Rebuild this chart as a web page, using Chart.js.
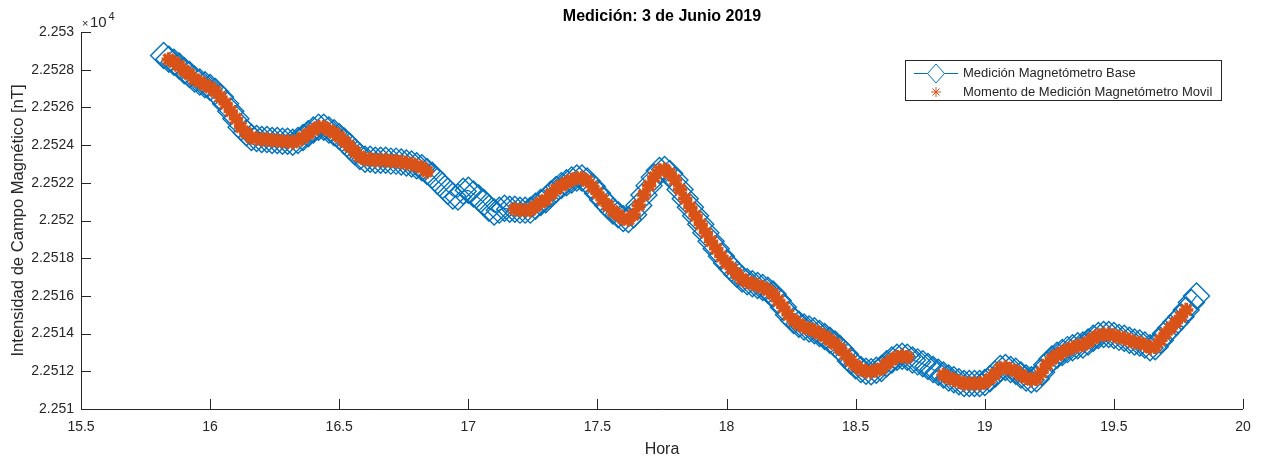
<!DOCTYPE html>
<html><head><meta charset="utf-8">
<script src="https://cdn.jsdelivr.net/npm/chart.js@4"></script>
<style>html,body{margin:0;padding:0;background:#fff;overflow:hidden}#wrap{width:1262px;height:457px}</style>
</head><body><div id="wrap"><canvas id="c" width="1262" height="457"></canvas></div>
<script>
// ---- data (hours, nT) ----
const horas = [15.82,15.84,15.86,15.88,15.90,15.92,15.94,15.96,15.98,16.00,16.02,16.04,16.06,16.08,16.10,16.12,16.14,16.16,16.18,16.20,16.22,16.24,16.26,16.28,16.30,16.32,16.34,16.36,16.38,16.40,16.42,16.44,16.46,16.48,16.50,16.52,16.54,16.56,16.58,16.60,16.62,16.64,16.66,16.68,16.70,16.72,16.74,16.76,16.78,16.80,16.82,16.84,16.86,16.88,16.90,16.92,16.94,16.96,16.98,17.00,17.02,17.04,17.06,17.08,17.10,17.12,17.14,17.16,17.18,17.20,17.22,17.24,17.26,17.28,17.30,17.32,17.34,17.36,17.38,17.40,17.42,17.44,17.46,17.48,17.50,17.52,17.54,17.56,17.58,17.60,17.62,17.64,17.66,17.68,17.70,17.72,17.74,17.76,17.78,17.80,17.82,17.84,17.86,17.88,17.90,17.92,17.94,17.96,17.98,18.00,18.02,18.04,18.06,18.08,18.10,18.12,18.14,18.16,18.18,18.20,18.22,18.24,18.26,18.28,18.30,18.32,18.34,18.36,18.38,18.40,18.42,18.44,18.46,18.48,18.50,18.52,18.54,18.56,18.58,18.60,18.62,18.64,18.66,18.68,18.70,18.72,18.74,18.76,18.78,18.80,18.82,18.84,18.86,18.88,18.90,18.92,18.94,18.96,18.98,19.00,19.02,19.04,19.06,19.08,19.10,19.12,19.14,19.16,19.18,19.20,19.22,19.24,19.26,19.28,19.30,19.32,19.34,19.36,19.38,19.40,19.42,19.44,19.46,19.48,19.50,19.52,19.54,19.56,19.58,19.60,19.62,19.64,19.66,19.68,19.70,19.72,19.74,19.76,19.78,19.80,19.82];
const campoBase = [22528.75,22528.55,22528.40,22528.20,22527.95,22527.75,22527.50,22527.35,22527.20,22527.05,22526.85,22526.55,22526.20,22525.80,22525.40,22524.95,22524.65,22524.40,22524.35,22524.30,22524.30,22524.25,22524.25,22524.20,22524.20,22524.15,22524.25,22524.40,22524.60,22524.80,22524.95,22524.95,22524.80,22524.65,22524.45,22524.20,22523.95,22523.65,22523.40,22523.25,22523.25,22523.20,22523.20,22523.20,22523.15,22523.15,22523.10,22523.05,22523.00,22522.90,22522.80,22522.60,22522.40,22522.10,22521.85,22521.55,22521.30,22521.25,22521.55,22521.60,22521.40,22521.20,22520.95,22520.65,22520.45,22520.55,22520.65,22520.60,22520.60,22520.55,22520.55,22520.55,22520.75,22520.95,22521.10,22521.40,22521.65,22521.85,22522.00,22522.15,22522.25,22522.25,22522.10,22521.80,22521.45,22521.10,22520.80,22520.50,22520.30,22520.10,22520.05,22520.30,22520.80,22521.35,22521.85,22522.30,22522.65,22522.70,22522.50,22522.15,22521.65,22521.15,22520.70,22520.25,22519.80,22519.35,22518.90,22518.50,22518.10,22517.75,22517.45,22517.15,22516.90,22516.75,22516.65,22516.55,22516.45,22516.30,22516.10,22515.75,22515.40,22515.00,22514.70,22514.50,22514.35,22514.25,22514.15,22514.00,22513.85,22513.65,22513.45,22513.20,22512.90,22512.55,22512.30,22512.10,22512.00,22511.98,22512.05,22512.15,22512.40,22512.60,22512.75,22512.80,22512.75,22512.60,22512.50,22512.40,22512.25,22512.10,22511.95,22511.80,22511.65,22511.55,22511.45,22511.35,22511.35,22511.35,22511.35,22511.40,22511.60,22511.85,22512.15,22512.20,22512.10,22512.00,22511.80,22511.65,22511.55,22511.60,22511.95,22512.35,22512.65,22512.85,22513.00,22513.15,22513.25,22513.35,22513.40,22513.55,22513.75,22513.90,22513.95,22513.95,22513.90,22513.80,22513.75,22513.65,22513.55,22513.50,22513.40,22513.25,22513.30,22513.65,22514.00,22514.30,22514.60,22514.90,22515.25,22515.65,22516.00];
// windows (hours) in which the mobile magnetometer measured
const movilInicio = [15.84, 17.18, 18.84];
const movilFin = [16.84, 18.70, 19.78];
const xTicks = [15.5,16,16.5,17,17.5,18,18.5,19,19.5,20];
const yTicks = [22510,22512,22514,22516,22518,22520,22522,22524,22526,22528,22530];
const titulo = 'Medición: 3 de Junio 2019';
const tituloX = 'Hora';
const tituloY = 'Intensidad de Campo Magnético [nT]';
const serieBase = 'Medición Magnetómetro Base';
const serieMovil = 'Momento de Medición Magnetómetro Movil';

const FONT = "'Liberation Sans', Arial, Helvetica, sans-serif";
const AX = '#262626';
const BLUE = '#0072BD', ORANGE = '#D95319';

const basePts = horas.map((h, i) => ({x: h, y: campoBase[i]}));
const movilPts = basePts.filter(p => movilInicio.some((s, k) => p.x >= s - 1e-9 && p.x <= movilFin[k] + 1e-9));

function drawStar(ctx, x, y, r) {
  ctx.beginPath();
  ctx.moveTo(x - r, y); ctx.lineTo(x + r, y);
  ctx.moveTo(x, y - r); ctx.lineTo(x, y + r);
  const d = r * Math.SQRT1_2;
  ctx.moveTo(x - d, y - d); ctx.lineTo(x + d, y + d);
  ctx.moveTo(x - d, y + d); ctx.lineTo(x + d, y - d);
  ctx.stroke();
}

const decor = {
  id: 'decor',
  afterDraw(chart) {
    const {ctx, chartArea: a, scales: {x, y}} = chart;
    ctx.save();
    // axes lines
    ctx.strokeStyle = AX; ctx.lineWidth = 1;
    ctx.beginPath();
    ctx.moveTo(Math.round(a.left) + 0.5, a.top);
    ctx.lineTo(Math.round(a.left) + 0.5, Math.round(a.bottom) + 0.5);
    ctx.lineTo(a.right, Math.round(a.bottom) + 0.5);
    ctx.stroke();
    // inward ticks
    ctx.beginPath();
    xTicks.forEach(v => {
      const px = Math.round(x.getPixelForValue(v)) + 0.5;
      ctx.moveTo(px, a.bottom); ctx.lineTo(px, a.bottom - 10);
    });
    yTicks.forEach(v => {
      const py = Math.round(y.getPixelForValue(v)) + 0.5;
      ctx.moveTo(a.left, py); ctx.lineTo(a.left + 10, py);
    });
    ctx.stroke();
    // exponent  ×10^4
    ctx.fillStyle = AX;
    ctx.textBaseline = 'middle'; ctx.textAlign = 'left';
    ctx.font = '11px ' + FONT;
    ctx.fillText('×', a.left + 1, 23.5);
    ctx.font = '15px ' + FONT;
    ctx.fillText('10', a.left + 9, 23);
    ctx.font = '11px ' + FONT;
    ctx.fillText('4', a.left + 27.5, 17);
    // title
    ctx.fillStyle = '#000';
    ctx.font = 'bold 16px ' + FONT;
    ctx.textAlign = 'center';
    ctx.fillText(titulo, (a.left + a.right) / 2, 17);
    // axis titles
    ctx.fillStyle = AX;
    ctx.font = '16px ' + FONT;
    ctx.fillText(tituloX, (a.left + a.right) / 2, 450);
    ctx.save();
    ctx.translate(18, (a.top + a.bottom) / 2);
    ctx.rotate(-Math.PI / 2);
    ctx.font = '16.6px ' + FONT;
    ctx.fillText(tituloY, 0, 0);
    ctx.restore();
    // legend
    const lx = 905.5, ly = 60.5, lw = 316, lh = 40;
    ctx.fillStyle = '#fff';
    ctx.fillRect(lx, ly, lw, lh);
    ctx.strokeStyle = AX; ctx.lineWidth = 1;
    ctx.strokeRect(lx, ly, lw, lh);
    ctx.strokeStyle = BLUE;
    ctx.beginPath(); ctx.moveTo(914, 73.5); ctx.lineTo(958, 73.5); ctx.stroke();
    ctx.beginPath();
    ctx.moveTo(936 - 8.5, 73.5); ctx.lineTo(936, 73.5 - 9.5);
    ctx.lineTo(936 + 8.5, 73.5); ctx.lineTo(936, 73.5 + 9.5); ctx.closePath();
    ctx.fillStyle = '#fff'; ctx.fill(); ctx.stroke();
    ctx.strokeStyle = ORANGE; ctx.lineWidth = 1;
    drawStar(ctx, 936, 92, 5);
    ctx.fillStyle = AX;
    ctx.font = '13px ' + FONT;
    ctx.textAlign = 'left';
    ctx.fillText(serieBase, 963, 73.5);
    ctx.fillText(serieMovil, 963, 92);
    ctx.restore();
  }
};

new Chart(document.getElementById('c'), {
  type: 'scatter',
  data: {
    datasets: [
      {label: serieMovil, data: movilPts, order: 1, showLine: false,
       pointStyle: 'star', pointRadius: 7.2, pointBorderWidth: 3.6,
       borderColor: ORANGE, backgroundColor: ORANGE, pointHoverRadius: 7.2},
      {label: serieBase, data: basePts, order: 2, showLine: true,
       borderColor: BLUE, borderWidth: 1.2, backgroundColor: 'rgba(0,0,0,0)',
       pointStyle: 'rectRot', pointRadius: 13, pointBorderWidth: 1.4,
       pointBackgroundColor: 'rgba(0,0,0,0)', pointBorderColor: BLUE, pointHoverRadius: 13}
    ]
  },
  options: {
    responsive: false, devicePixelRatio: 1, animation: false,
    events: [],
    layout: {padding: {left: 0, right: 19, top: 32, bottom: 0}},
    plugins: {legend: {display: false}, tooltip: {enabled: false}, title: {display: false}},
    scales: {
      x: {
        type: 'linear', min: 15.5, max: 20,
        afterFit: s => { s.height = 48; },
        afterBuildTicks: s => { s.ticks = xTicks.map(v => ({value: v})); },
        grid: {display: false, drawTicks: false}, border: {display: false},
        ticks: {padding: 10, color: AX, font: {family: FONT, size: 14}, maxRotation: 0, autoSkip: false,
                callback: v => String(v)}
      },
      y: {
        type: 'linear', min: 22510, max: 22530,
        afterFit: s => { s.width = 81; },
        afterBuildTicks: s => { s.ticks = yTicks.map(v => ({value: v})); },
        grid: {display: false, drawTicks: false}, border: {display: false},
        ticks: {padding: 7, color: AX, font: {family: FONT, size: 14}, autoSkip: false,
                callback: v => String(parseFloat((v / 1e4).toFixed(4)))}
      }
    }
  },
  plugins: [decor]
});
</script>
</body></html>
